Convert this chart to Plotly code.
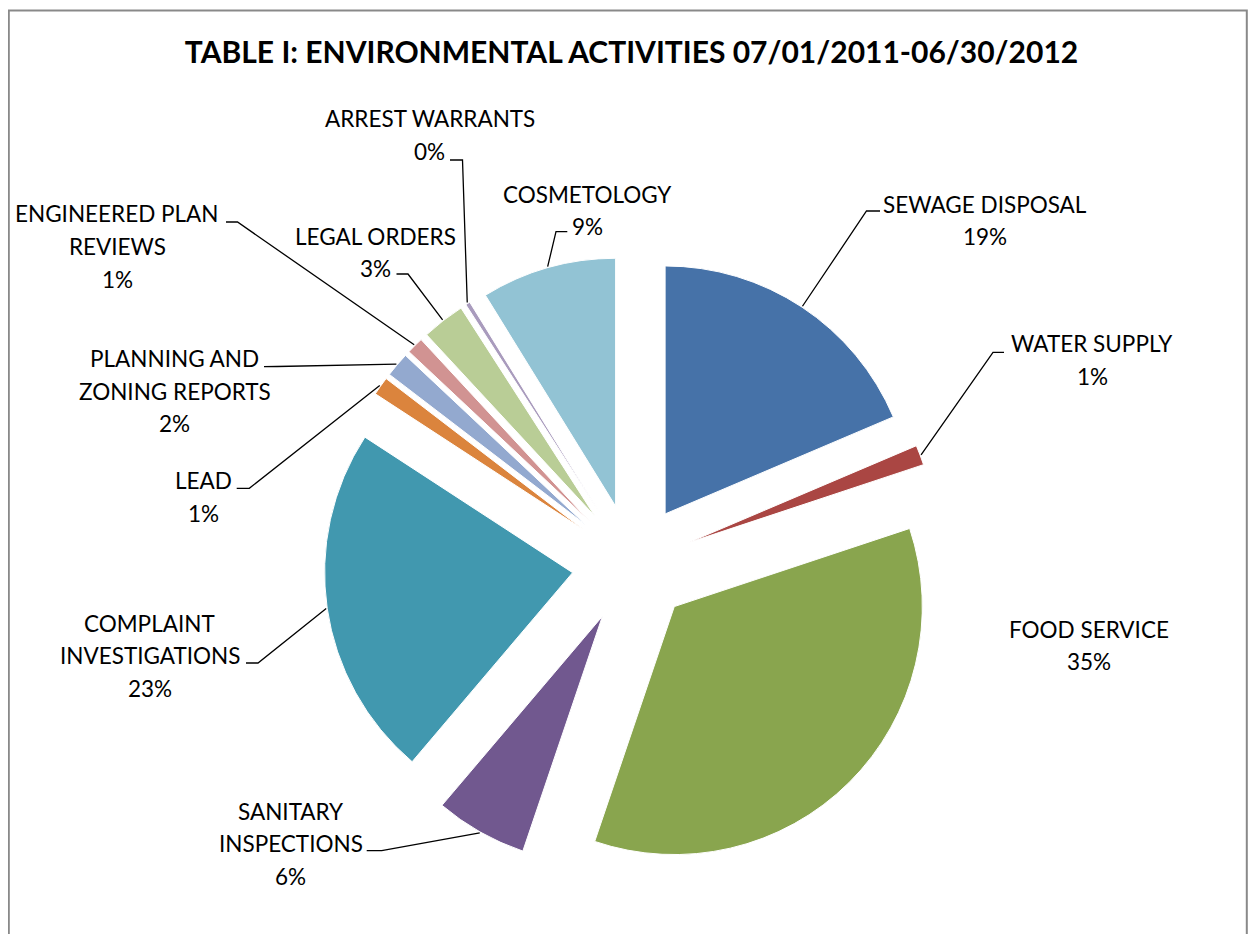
import math
import plotly.graph_objects as go

# ---------------- data ----------------
categories = [
    "SEWAGE DISPOSAL", "WATER SUPPLY", "FOOD SERVICE", "SANITARY INSPECTIONS",
    "COMPLAINT INVESTIGATIONS", "LEAD", "PLANNING AND ZONING REPORTS",
    "ENGINEERED PLAN REVIEWS", "LEGAL ORDERS", "ARREST WARRANTS", "COSMETOLOGY",
]
shares = [18.6, 1.3, 35.3, 6.0, 23.0, 1.2, 1.6, 1.1, 2.8, 0.3, 8.8]
label_lines = [
    ["SEWAGE DISPOSAL"], ["WATER SUPPLY"], ["FOOD SERVICE"],
    ["SANITARY", "INSPECTIONS"], ["COMPLAINT", "INVESTIGATIONS"], ["LEAD"],
    ["PLANNING AND", "ZONING REPORTS"], ["ENGINEERED PLAN", "REVIEWS"],
    ["LEGAL ORDERS"], ["ARREST WARRANTS"], ["COSMETOLOGY"],
]
colors = ["#4672A8", "#AA4643", "#89A54E", "#71588F", "#4198AF", "#DB843D",
          "#93A9CF", "#D19392", "#B9CD96", "#A99BBD", "#92C3D4"]
title_text = "TABLE I: ENVIRONMENTAL ACTIVITIES 07/01/2011-06/30/2012"

# ---------------- layout constants (page pixels) ----------------
OFF = 8                      # page body margin
W, H = 1256 - 2 * OFF, 942 - 2 * OFF
CX, CY = 632, 564
R = 248
PULL = 0.242
HALF = R * (1 + PULL)
FONT = "Lato"
LABEL_SIZE = 22.5
LINE_GAP = 32.5

# label centre (x, first line y)
label_pos = [
    (984.5, 204), (1092, 343.7), (1088.5, 629), (290.5, 811), (149.5, 623.3),
    (204, 480.8), (174.5, 358.7), (117, 214), (375.5, 236.2), (429.6, 118.7),
    (587, 194.2),
]
# leader line: (label end, knee) ; None = no leader
leaders = [
    ((880, 211), (866.5, 211)),
    ((1004, 352.3), (993, 352.3)),
    None,
    ((366.7, 850.7), (381.7, 850.7)),
    ((246, 663), (258, 663)),
    ((236.7, 488.3), (249.3, 488.3)),
    ((264, 366.7), (277, 366.5)),
    ((226, 222), (237.5, 222)),
    ((396.5, 274), (408, 274)),
    ((450, 160), (462.5, 160)),
    ((567.3, 231.7), (556, 231.7)),
]


def px(x):
    return (x - OFF) / W


def py(y):
    return 1 - (y - OFF) / H


total = sum(shares)
pct_text = [f"{round(v / total * 100)}%" for v in shares]

fig = go.Figure(go.Pie(
    labels=categories,
    values=shares,
    sort=False,
    direction="clockwise",
    rotation=0,
    pull=[PULL] * len(shares),
    marker=dict(colors=colors, line=dict(color="white", width=1)),
    textinfo="none",
    hoverinfo="label+percent",
    domain=dict(x=[px(CX - HALF), px(CX + HALF)],
                y=[py(CY + HALF), py(CY - HALF)]),
    showlegend=False,
))

annotations = []
for lines, pct, (lx, ly) in zip(label_lines, pct_text, label_pos):
    for i, t in enumerate(lines + [pct]):
        annotations.append(dict(
            x=px(lx), y=py(ly + i * LINE_GAP), xref="paper", yref="paper",
            text=t, showarrow=False, xanchor="center", yanchor="middle",
            font=dict(family=FONT, size=LABEL_SIZE, color="black"),
        ))

shapes = []
cum = 0.0
for v, ld in zip(shares, leaders):
    mid = (cum + v / 2) / total * 2 * math.pi
    cum += v
    if ld is None:
        continue
    dist = R * (1 + PULL) + 1
    ex = CX + dist * math.sin(mid)
    ey = CY - dist * math.cos(mid)
    (x0, y0), (x1, y1) = ld
    shapes.append(dict(
        type="path", xref="paper", yref="paper",
        path=f"M {px(x0)} {py(y0)} L {px(x1)} {py(y1)} L {px(ex)} {py(ey)}",
        line=dict(color="black", width=1.3),
    ))

# chart border
shapes.append(dict(type="rect", xref="paper", yref="paper",
                   x0=px(8.8), x1=px(1246.8), y0=py(980), y1=py(10.5),
                   line=dict(color="#898989", width=2), fillcolor="rgba(0,0,0,0)"))

fig.update_layout(
    width=W, height=H,
    margin=dict(l=0, r=0, t=0, b=0),
    paper_bgcolor="white",
    plot_bgcolor="white",
    title=dict(text=f"<b>{title_text}</b>", x=px(631.5), y=py(52.5),
               xanchor="center", yanchor="middle",
               font=dict(family=FONT, size=30, color="black")),
    annotations=annotations,
    shapes=shapes,
)

fig.write_html("out.html")
